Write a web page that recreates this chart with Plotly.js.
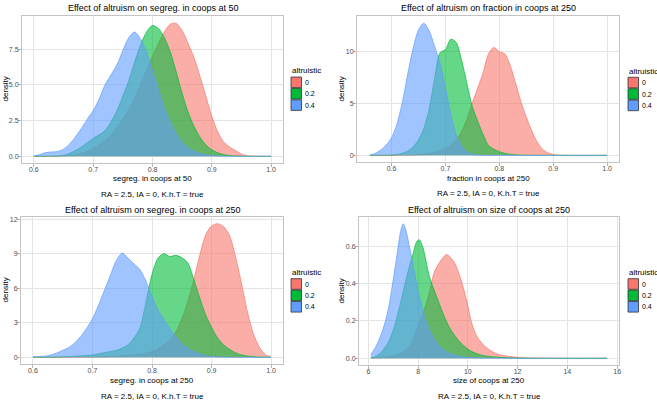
<!DOCTYPE html>
<html>
<head>
<meta charset="utf-8">
<script src="https://cdn.plot.ly/plotly-3.0.1.min.js"></script>
<style>
  html, body { margin: 0; padding: 0; background: #ffffff; }
  #chart { width: 657px; height: 401px; }
</style>
</head>
<body>
<div id="chart"></div>
<script>
// ---- Densities by altruistic share (0, 0.2, 0.4) ----
const groups = ['0', '0.2', '0.4'];

// Panel 1: segregation in coops at tick 50
const p1X = [0.60,0.61,0.62,0.63,0.64,0.65,0.66,0.67,0.68,0.69,0.70,0.71,0.72,0.73,0.74,0.75,0.76,0.77,0.78,0.79,0.80,
             0.81,0.82,0.83,0.84,0.85,0.86,0.87,0.88,0.89,0.90,0.91,0.92,0.93,0.94,0.95,0.96,0.97,0.98,0.99,1.00];
const p1Red   = [0,0,0.005,0.01,0.02,0.03,0.05,0.1,0.2,0.35,0.55,0.8,1.1,1.5,2.0,2.6,3.3,4.1,5.0,6.0,7.0,
                 7.9,8.7,9.25,9.3,8.8,7.9,6.9,5.6,4.2,2.8,1.7,1.0,0.65,0.4,0.15,0.04,0.01,0,0,0];
const p1Green = [0,0,0.005,0.01,0.02,0.08,0.2,0.4,0.65,0.95,1.25,1.5,1.8,2.4,3.2,4.2,5.3,6.6,7.8,8.7,9.15,
                 8.95,8.3,7.3,5.9,4.4,3.1,2.1,1.35,0.8,0.45,0.25,0.12,0.05,0.02,0.01,0,0,0,0,0];
const p1Blue  = [0.03,0.12,0.26,0.3,0.33,0.5,0.85,1.35,1.95,2.6,3.2,4.0,5.0,5.7,6.4,7.4,8.3,8.7,8.2,7.3,6.0,
                 4.7,3.4,2.4,1.6,1.0,0.6,0.35,0.2,0.1,0.05,0.02,0.01,0,0,0,0,0,0,0,0];

// Panel 2: fraction in coops at tick 250
const p2X = [0.56,0.57,0.58,0.59,0.60,0.61,0.62,0.63,0.64,0.65,0.66,0.67,0.68,0.69,0.70,0.71,0.72,0.73,0.74,0.75,0.76,0.77,
             0.78,0.79,0.80,0.81,0.82,0.83,0.84,0.85,0.86,0.87,0.88,0.89,0.90,0.91,0.92,0.93,0.94,0.95,0.96,0.97,0.98,0.99,1.00];
const p2Red   = [0,0,0,0,0,0,0.005,0.02,0.04,0.08,0.13,0.2,0.3,0.45,0.65,1.0,1.5,2.3,3.5,5.1,6.5,8.0,
                 9.8,10.4,10.0,9.8,8.7,7.0,5.2,3.7,2.4,1.3,0.6,0.25,0.08,0.02,0.005,0,0,0,0,0,0,0,0];
const p2Green = [0,0,0.01,0.02,0.04,0.08,0.2,0.4,0.8,1.5,2.6,4.5,7.4,9.9,10.2,11.2,10.9,9.2,6.9,4.7,3.3,2.0,
                 0.95,0.6,0.35,0.2,0.1,0.05,0.02,0.01,0,0,0,0,0,0,0,0,0,0,0,0,0,0,0];
const p2Blue  = [0.03,0.2,0.5,1.0,1.7,3.0,5.1,7.8,10.3,12.1,12.75,12.0,10.5,8.9,6.5,4.0,2.0,0.9,0.35,0.12,0.04,0.01,
                 0,0,0,0,0,0,0,0,0,0,0,0,0,0,0,0,0,0,0,0,0,0,0];

// Panel 3: segregation in coops at tick 250
const p3X = p1X;
const p3Red   = [0,0,0,0,0,0,0,0.005,0.01,0.015,0.02,0.03,0.04,0.06,0.08,0.12,0.16,0.22,0.28,0.36,0.5,
                 0.75,1.1,1.5,2.2,3.3,4.8,6.7,8.8,10.6,11.4,11.6,11.35,10.6,8.8,6.5,4.0,2.1,0.9,0.25,0.03];
const p3Green = [0.01,0.01,0.02,0.02,0.03,0.05,0.07,0.1,0.12,0.15,0.2,0.3,0.4,0.5,0.6,0.8,1.1,1.7,2.6,4.8,7.2,
                 8.6,9.0,8.75,8.85,8.65,8.2,6.8,5.2,3.7,2.6,1.7,1.1,0.7,0.4,0.22,0.12,0.06,0.02,0.01,0];
const p3Blue  = [0.05,0.07,0.1,0.2,0.38,0.6,0.85,1.25,1.8,2.5,3.35,4.5,5.8,7.1,8.4,9.05,8.6,8.1,7.6,6.6,5.3,
                 4.1,3.3,2.5,1.8,1.2,0.8,0.5,0.3,0.15,0.08,0.04,0.02,0.01,0,0,0,0,0,0,0];

// Panel 4: size of coops at tick 250 (each group sampled on its own grid)
const p4RedX   = [6.1,6.6,7.2,7.6,7.85,8.05,8.25,8.45,8.65,8.9,9.15,9.45,9.7,9.95,10.15,10.35,10.6,10.85,11.2,11.6,12.0,12.5,13.5,15.6];
const p4Red    = [0.001,0.005,0.02,0.055,0.12,0.19,0.26,0.35,0.46,0.52,0.555,0.515,0.43,0.31,0.19,0.12,0.075,0.047,0.022,0.011,0.005,0.002,0.0005,0];
const p4GreenX = [6.1,6.25,6.5,6.8,7.05,7.3,7.55,7.8,7.95,8.05,8.2,8.45,8.8,9.05,9.3,9.7,10.1,10.6,11.3,12.0,15.6];
const p4Green  = [0.002,0.007,0.03,0.085,0.17,0.3,0.44,0.56,0.625,0.634,0.59,0.44,0.31,0.225,0.155,0.085,0.04,0.015,0.005,0.001,0];
const p4BlueX  = [6.1,6.25,6.4,6.6,6.8,7.0,7.15,7.3,7.4,7.5,7.65,7.8,8.0,8.25,8.5,8.8,9.2,9.8,10.5,12.0,15.6];
const p4Blue   = [0.02,0.05,0.09,0.16,0.26,0.42,0.55,0.68,0.72,0.69,0.6,0.5,0.36,0.23,0.14,0.075,0.03,0.008,0.002,0,0];

const captionText = 'RA = 2.5, IA = 0, K.h.T = true';

// ---- styling ----
const W = 657, H = 401;
const FONT = 'Liberation Sans, Arial, Helvetica, sans-serif';
const colors = [[248,118,109],[0,186,56],[97,156,255]];
const rgba = (c, a) => `rgba(${c[0]},${c[1]},${c[2]},${a})`;
const fx = x => x / W;
const fy = y => 1 - y / H;

function densityTrace(x, y, gi, ax) {
  return {
    type: 'scatter', mode: 'lines', x: x, y: y,
    xaxis: 'x' + ax, yaxis: 'y' + ax,
    line: { shape: 'spline', smoothing: 0.8, color: rgba(colors[gi], 1), width: 0.7 },
    fill: 'tozeroy', fillcolor: rgba(colors[gi], 0.6),
    hoverinfo: 'skip', showlegend: false, name: groups[gi]
  };
}

const data = [
  densityTrace(p1X, p1Red, 0, ''), densityTrace(p1X, p1Green, 1, ''), densityTrace(p1X, p1Blue, 2, ''),
  densityTrace(p2X, p2Red, 0, '2'), densityTrace(p2X, p2Green, 1, '2'), densityTrace(p2X, p2Blue, 2, '2'),
  densityTrace(p3X, p3Red, 0, '3'), densityTrace(p3X, p3Green, 1, '3'), densityTrace(p3X, p3Blue, 2, '3'),
  densityTrace(p4RedX, p4Red, 0, '4'), densityTrace(p4GreenX, p4Green, 1, '4'), densityTrace(p4BlueX, p4Blue, 2, '4')
];

const axisBase = {
  showline: true, mirror: true, linecolor: '#c4c4c4', linewidth: 1,
  showgrid: true, gridcolor: '#e4e4e4', gridwidth: 1, zeroline: false,
  ticks: 'outside', ticklen: 3, tickwidth: 1, tickcolor: '#b3b3b3',
  tickfont: { family: FONT, size: 7, color: '#4d4d4d' }, fixedrange: true
};
const ax = (o) => Object.assign({}, axisBase, o);
const xa = (o) => ax(Object.assign({ ticklabelstandoff: -3 }, o));
const ya = (o) => ax(Object.assign({ ticklabelstandoff: -2 }, o));

// panel boxes in pixels: [left, top, right, bottom]
const boxes = [[22,16,283,163],[357,16,619,162],[21,217,283,364],[359,217,619,365]];
const xDom = b => [fx(b[0]), fx(b[2])];
const yDom = b => [fy(b[3]), fy(b[1])];

const layout = {
  width: W, height: H, margin: { l: 0, r: 0, t: 0, b: 0 },
  paper_bgcolor: '#ffffff', plot_bgcolor: '#ffffff',
  font: { family: FONT, color: '#000000' },
  xaxis:  xa({ domain: xDom(boxes[0]), anchor: 'y',  range: [0.58, 1.02], tick0: 0.6, dtick: 0.1, tickformat: '.1f' }),
  yaxis:  ya({ domain: yDom(boxes[0]), anchor: 'x',  range: [-0.47, 9.82], tick0: 0, dtick: 2.5, tickformat: '.1f' }),
  xaxis2: xa({ domain: xDom(boxes[1]), anchor: 'y2', range: [0.536, 1.022], tick0: 0.6, dtick: 0.1, tickformat: '.1f' }),
  yaxis2: ya({ domain: yDom(boxes[1]), anchor: 'x2', range: [-0.64, 13.44], tick0: 0, dtick: 5 }),
  xaxis3: xa({ domain: xDom(boxes[2]), anchor: 'y3', range: [0.58, 1.02], tick0: 0.6, dtick: 0.1, tickformat: '.1f' }),
  yaxis3: ya({ domain: yDom(boxes[2]), anchor: 'x3', range: [-0.58, 12.18], tick0: 0, dtick: 3 }),
  xaxis4: xa({ domain: xDom(boxes[3]), anchor: 'y4', range: [5.625, 16.075], tick0: 6, dtick: 2 }),
  yaxis4: ya({ domain: yDom(boxes[3]), anchor: 'x4', range: [-0.036, 0.756], tick0: 0, dtick: 0.2, tickformat: '.1f' }),
  annotations: [], shapes: []
};

function text(str, x, y, size, opts) {
  layout.annotations.push(Object.assign({
    text: str, x: fx(x), y: fy(y), xref: 'paper', yref: 'paper',
    showarrow: false, xanchor: 'center', yanchor: 'middle',
    font: { family: FONT, size: size, color: '#000000' }
  }, opts || {}));
}

const titles = [
  'Effect of altruism on segreg. in coops at 50',
  'Effect of altruism on fraction in coops at 250',
  'Effect of altruism on segreg. in coops at 250',
  'Effect of altruism on size of coops at 250'
];
const xTitles = ['segreg. in coops at 50', 'fraction in coops at 250', 'segreg. in coops at 250', 'size of coops at 250'];
// vertical text rows per panel: [title, x-axis title, caption]
const rows = [[8, 178.5, 194], [8, 178.5, 193.5], [210, 380.5, 396.5], [210, 380.5, 396.5]];
const yTitleX = [5, 340.5, 5, 340.5];
// legend anchors: [left, title centre y]
const legends = [[290, 71], [627, 71.3], [290, 272.7], [627, 272.7]];

boxes.forEach((b, i) => {
  const cx = (b[0] + b[2]) / 2, cy = (b[1] + b[3]) / 2;
  text(titles[i], cx, rows[i][0], 9);
  text(xTitles[i], cx, rows[i][1], 8);
  text(captionText, cx, rows[i][2], 8);
  text('density', yTitleX[i], cy, 8, { textangle: -90 });

  const [lx, ly] = legends[i];
  text('altruistic', lx, ly, 8, { xanchor: 'left' });
  groups.forEach((g, gi) => {
    const top = ly + 6 + gi * 11.4, bot = top + 10.6;
    layout.shapes.push({
      type: 'rect', xref: 'paper', yref: 'paper',
      x0: fx(lx + 1), x1: fx(lx + 11.5), y0: fy(bot), y1: fy(top),
      fillcolor: rgba(colors[gi], 1), line: { color: '#333333', width: 0.8 }
    });
    text(g, lx + 13, (top + bot) / 2, 7, { xanchor: 'left', font: { family: FONT, size: 7, color: '#000000' } });
  });
});

Plotly.newPlot('chart', data, layout, { staticPlot: true, displayModeBar: false });
</script>
</body>
</html>
